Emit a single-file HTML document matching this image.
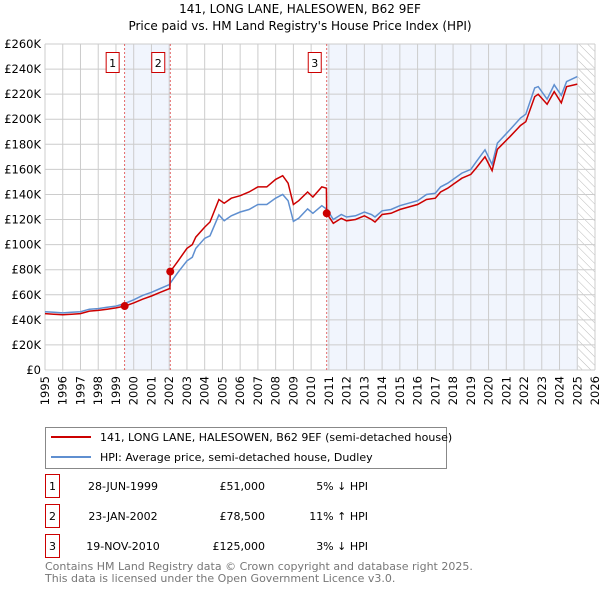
<!DOCTYPE html>
<html><head><meta charset="utf-8"><style>
body{margin:0;background:#fff;font-family:"Liberation Sans","DejaVu Sans",sans-serif;}
svg text{font-family:"DejaVu Sans","Liberation Sans",sans-serif;}
</style></head><body>
<svg id="c" width="600" height="590" xmlns="http://www.w3.org/2000/svg">
<text x="300" y="13" text-anchor="middle" font-size="12">141, LONG LANE, HALESOWEN, B62 9EF</text>
<text x="300" y="30" text-anchor="middle" font-size="12">Price paid vs. HM Land Registry's House Price Index (HPI)</text>
<g id="plot"></g>
<g>
<rect x="45.5" y="427.5" width="401" height="41" fill="#fff" stroke="#888"/>
<line x1="51" y1="437" x2="91" y2="437" stroke="#cc0000" stroke-width="2"/>
<text x="100" y="441" font-size="11">141, LONG LANE, HALESOWEN, B62 9EF (semi-detached house)</text>
<line x1="51" y1="457" x2="91" y2="457" stroke="#5f8fd0" stroke-width="2"/>
<text x="100" y="461" font-size="11">HPI: Average price, semi-detached house, Dudley</text>
</g>
<g id="tbl" font-size="11"></g>
<text x="45" y="594" font-size="11" fill="#777" transform="translate(0,-24)">Contains HM Land Registry data © Crown copyright and database right 2025.</text>
<text x="45" y="582" font-size="11" fill="#777">This data is licensed under the Open Government Licence v3.0.</text>
</svg>
<script>
const hpiYears=[1995,1995.5,1996,1996.5,1997,1997.5,1998,1998.5,1999,1999.5,2000,2000.5,2001,2001.5,2002,2002.2,2002.5,2003,2003.3,2003.5,2004,2004.3,2004.8,2005.1,2005.5,2006,2006.5,2007,2007.5,2008,2008.4,2008.7,2009,2009.3,2009.8,2010.1,2010.6,2010.9,2011.25,2011.7,2012,2012.5,2013,2013.4,2013.6,2014,2014.5,2015,2015.5,2016,2016.5,2017,2017.3,2017.7,2018,2018.5,2019,2019.3,2019.8,2020.2,2020.5,2021.2,2021.8,2022.1,2022.6,2022.8,2023.3,2023.7,2024.1,2024.4,2025];
const hpiValues=[46.5,46,45.5,46,46.5,48.5,49,50,51,53,56,59.5,62,65,68,72,78,87,90,97,105,107,123.7,119,123,126,128,132,132,137,140,135,118.5,121,128.5,125,131,128,120,124,122,123,126,124,122,127,128,131,133,135,140,141,146,149,152,157,160,166,175.6,164,181,191.5,201,204,225,226,216,227.5,219,230,234];
const ppYears=[1995,1995.5,1996,1996.5,1997,1997.5,1998,1998.5,1999,1999.49,2000,2000.5,2001,2001.5,2002.04,2002.06,2002.5,2003,2003.3,2003.5,2004,2004.3,2004.8,2005.1,2005.5,2006,2006.5,2007,2007.5,2008,2008.4,2008.7,2009,2009.3,2009.8,2010.1,2010.6,2010.86,2010.88,2011.25,2011.7,2012,2012.5,2013,2013.4,2013.6,2014,2014.5,2015,2015.5,2016,2016.5,2017,2017.3,2017.7,2018,2018.5,2019,2019.3,2019.8,2020.2,2020.5,2021.2,2021.8,2022.1,2022.6,2022.8,2023.3,2023.7,2024.1,2024.4,2025];
const ppValues=[45,44.5,44,44.5,45,47,47.5,48.5,49.5,51,53.5,56.5,59,62,65,78.5,87,97,100,106,114,118,136,133,137,139,142,146,146,152,155,149,132,135,142,138,146,145,125,117,121,119,120,123,120,118,124,125,128,130,132,136,137,142,145,148,153,156,161,170,159,176,186,195,198,218,220,212,222,213,226,228];
const saleLabels=["1","2","3"];
const saleYears=[1999.49,2002.06,2010.88];
const salePrices=[51,78.5,125];
const saleDates=["28-JUN-1999","23-JAN-2002","19-NOV-2010"];
const salePriceText=["£51,000","£78,500","£125,000"];
const saleHpiText=["5% ↓ HPI","11% ↑ HPI","3% ↓ HPI"];
const yTicks=[0,20,40,60,80,100,120,140,160,180,200,220,240,260];
const xTicks=[1995,1996,1997,1998,1999,2000,2001,2002,2003,2004,2005,2006,2007,2008,2009,2010,2011,2012,2013,2014,2015,2016,2017,2018,2019,2020,2021,2022,2023,2024,2025,2026];
const L=45,R=595,T=44,B=370,x0=1995,x1=2026,ymax=260,dataEnd=2025.05;
const X=v=>L+(v-x0)/(x1-x0)*(R-L);
const Y=v=>B-v/ymax*(B-T);
const NS="http://www.w3.org/2000/svg";
const g=document.getElementById('plot');
function mk(tag,attrs,parent){const e=document.createElementNS(NS,tag);for(const k in attrs)e.setAttribute(k,attrs[k]);(parent||g).appendChild(e);return e;}
// shaded regions
let s1=mk('rect',{x:X(saleYears[0]),y:T,width:X(saleYears[1])-X(saleYears[0]),height:B-T,fill:'#eef3fc',opacity:0.8});


let s2=mk('rect',{x:X(saleYears[2]),y:T,width:X(dataEnd)-X(saleYears[2]),height:B-T,fill:'#eef3fc',opacity:0.8});


// hatch
const defs=mk('defs',{});
const pat=mk('pattern',{id:'h',width:6,height:6,patternUnits:'userSpaceOnUse',patternTransform:'rotate(-45)'},defs);
mk('line',{x1:0,y1:0,x2:0,y2:6,stroke:'#bbb','stroke-width':1},pat);
let hr=mk('rect',{x:X(dataEnd),y:T,width:R-X(dataEnd),height:B-T,fill:'url(#h)'});


// grid
yTicks.forEach(v=>{
 let l=mk('line',{x1:L,x2:R,y1:Y(v),y2:Y(v),stroke:'#ccc'});
 
 
 let t=mk('text',{x:L-4,y:Y(v)+4,'text-anchor':'end','font-size':11.5});
 t.textContent='£'+(v===0?'0':v+'K');
 
 
});
xTicks.forEach(v=>{
 let l=mk('line',{x1:X(v),x2:X(v),y1:T,y2:B,stroke:'#ccc'});
 
 
 let t=mk('text',{x:0,y:0,'text-anchor':'end','font-size':11.5,transform:`translate(${X(v)+4},${B+6}) rotate(-90)`});
 t.textContent=v;
 
 
});
// sale vlines + labels
saleYears.forEach((v,i)=>{
 let l=mk('line',{x1:X(v),x2:X(v),y1:T,y2:B,stroke:'#dd4444','stroke-dasharray':'2,2','stroke-width':0.8});
 
 
 let b=mk('rect',{x:X(v)-18.5,y:52.5,width:13,height:20,fill:'#fff',stroke:'#cc0000'});
 
 
 let t=mk('text',{x:X(v)-12,y:67,'text-anchor':'middle','font-size':11});
 t.textContent=saleLabels[i];
 
 
});
const path=(xs,ys)=>xs.map((x,i)=>(i?'L':'M')+X(x).toFixed(1)+','+Y(ys[i]).toFixed(1)).join('');
let hp=mk('path',{d:path(hpiYears,hpiValues),fill:'none',stroke:'#5f8fd0','stroke-width':1.5});


let pp=mk('path',{d:path(ppYears,ppValues),fill:'none',stroke:'#cc0000','stroke-width':1.5});


saleYears.forEach((v,i)=>{
 let c=mk('circle',{cx:X(v),cy:Y(salePrices[i]),r:4,fill:'#cc0000'});
 
 
});
// table
const tb=document.getElementById('tbl');
saleLabels.forEach((s,i)=>{
 const y=485+i*30;
 let b=mk('rect',{x:45.5,y:y-10.5,width:14,height:23,fill:'none',stroke:'#cc0000'},tb);
 
 
 const cells=[[52.5,s,'middle'],[123,saleDates[i],'middle'],[265,salePriceText[i],'end'],[368,saleHpiText[i],'end']];
 cells.forEach(([x,txt,a],j)=>{
  let t=mk('text',{x:x,y:y+5,'text-anchor':a},tb);
  t.textContent=txt;
  
  
 });
});
</script>
</body></html>
